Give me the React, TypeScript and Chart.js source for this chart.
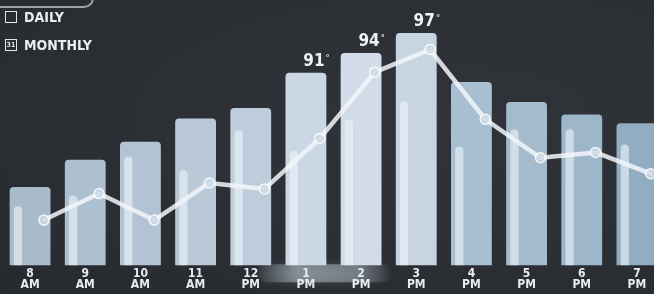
import React, { useEffect, useRef } from "react";
import { Chart, registerables } from "chart.js";

Chart.register(...registerables);

// ---- data ----
const hours = ["8", "9", "10", "11", "12", "1", "2", "3", "4", "5", "6", "7"];
const periods = ["AM", "AM", "AM", "AM", "PM", "PM", "PM", "PM", "PM", "PM", "PM", "PM"];
const temperature = [73.8, 77.9, 80.6, 84.1, 85.7, 91, 94, 97, 89.6, 86.6, 84.7, 83.4];
const innerValues = [70.9, 72.5, 78.4, 76.3, 82.4, 79.2, 84.0, 86.7, 79.9, 82.5, 82.5, 80.2];
const lineValues = [68.8, 72.8, 68.8, 74.4, 73.5, 81.1, 91.1, 94.5, 84.0, 78.2, 79.0, 75.8];
const labeledCategories = ["1 PM", "2 PM", "3 PM"];
const highlightCategories = ["1 PM", "2 PM"];
const yMin = 62;
const yMax = 101;

// ---- styles ----
const barColors = [
  "#a8bbca", "#adc0d0", "#b2c4d3", "#b9c9d8", "#becddb", "#cbd7e4",
  "#d1dce8", "#c7d4e1", "#a7bfd0", "#a3bbcc", "#9db6c9", "#91adc2",
];
const FONT = "'Liberation Sans Narrow', 'DejaVu Sans Condensed', 'Roboto', sans-serif";
const STRIP_SHIFT = -0.22;
const LINE_SHIFT = 0.25;

const catKey = (i: number) => hours[i] + " " + periods[i];

const valuePlugin = {
  id: "valueLabels",
  beforeDraw(chart: any) {
    const { ctx, chartArea } = chart;
    const xs = chart.scales.x;
    const idx = hours.map((_, i) => i).filter((i) => highlightCategories.includes(catKey(i)));
    if (!idx.length) return;
    const x0 = xs.getPixelForValue(idx[0]) - 48;
    const x1 = xs.getPixelForValue(idx[idx.length - 1]) + 30;
    const y0 = chartArea.bottom - 1;
    const h = 18;
    ctx.save();
    const g = ctx.createLinearGradient(x0, 0, x1, 0);
    g.addColorStop(0, "rgba(205,218,230,0.05)");
    g.addColorStop(0.3, "rgba(205,218,230,0.45)");
    g.addColorStop(0.75, "rgba(205,218,230,0.35)");
    g.addColorStop(1, "rgba(205,218,230,0.02)");
    ctx.fillStyle = g;
    ctx.shadowColor = "rgba(205,218,230,0.5)";
    ctx.shadowBlur = 8;
    ctx.beginPath();
    ctx.roundRect(x0, y0, x1 - x0, h, 8);
    ctx.fill();
    ctx.restore();
  },
  afterDatasetsDraw(chart: any) {
    const { ctx } = chart;
    const meta = chart.getDatasetMeta(0);
    ctx.save();
    meta.data.forEach((bar: any, i: number) => {
      if (!labeledCategories.includes(catKey(i))) return;
      const txt = String(Math.round(temperature[i]));
      ctx.font = `bold 17px ${FONT}`;
      const w = ctx.measureText(txt).width;
      const cx = bar.x + 10;
      const y = bar.y - 3;
      ctx.fillStyle = "#eef2f5";
      ctx.textBaseline = "bottom";
      ctx.textAlign = "left";
      ctx.fillText(txt, cx - w / 2 - 2, y);
      ctx.font = `bold 9px ${FONT}`;
      ctx.fillText("°", cx + w / 2 - 1, y - 7);
    });
    ctx.restore();
  },
};

export default function App() {
  const ref = useRef<HTMLCanvasElement | null>(null);

  useEffect(() => {
    if (!ref.current) return;
    const labels = hours.map((h, i) => [h, periods[i]]);
    const chart = new Chart(ref.current, {
      type: "bar",
      data: {
        labels,
        datasets: [
          {
            type: "bar",
            data: temperature,
            backgroundColor: barColors,
            borderWidth: 0,
            borderRadius: 4,
            borderSkipped: false,
            barPercentage: 0.74,
            categoryPercentage: 1,
            grouped: false,
            xAxisID: "x",
            order: 2,
          } as any,
          {
            type: "bar",
            data: innerValues.map((v, i) => ({ x: i + STRIP_SHIFT, y: v })),
            backgroundColor: "rgba(238,243,249,0.62)",
            borderRadius: { topLeft: 4, topRight: 4, bottomLeft: 0, bottomRight: 0 },
            borderSkipped: false,
            barPercentage: 0.15,
            categoryPercentage: 1,
            grouped: false,
            xAxisID: "xs",
            order: 1,
          } as any,
          {
            type: "line",
            data: lineValues.map((v, i) => ({ x: i + LINE_SHIFT, y: v })),
            xAxisID: "xl",
            borderColor: "rgba(242,246,250,0.85)",
            borderWidth: 4.5,
            borderJoinStyle: "round",
            borderCapStyle: "round",
            tension: 0,
            pointRadius: 5,
            pointBorderWidth: 1.5,
            pointBorderColor: "rgba(255,255,255,0.85)",
            pointBackgroundColor: "rgba(205,218,230,0.8)",
            order: 0,
          } as any,
        ],
      },
      options: {
        animation: false,
        responsive: false,
        layout: { padding: { left: 2, right: 0, top: 0, bottom: 0 } },
        plugins: { legend: { display: false }, tooltip: { enabled: false } },
        scales: {
          x: {
            type: "category",
            offset: true,
            grid: { display: false, drawTicks: false },
            border: { display: false },
            ticks: {
              color: "#e6ecf1",
              font: { family: FONT, size: 12, weight: "bold", lineHeight: 0.95 },
              padding: 3,
              maxRotation: 0,
              autoSkip: false,
            },
          },
          xs: {
            type: "linear",
            min: -0.5,
            max: 11.5,
            offset: false,
            display: false,
          },
          xl: {
            type: "linear",
            min: -0.5,
            max: 11.5,
            offset: false,
            display: false,
          },
          y: {
            min: yMin,
            max: yMax,
            display: false,
          },
        },
      } as any,
      plugins: [valuePlugin],
    });
    return () => chart.destroy();
  }, []);

  const text: React.CSSProperties = {
    position: "absolute",
    color: "#e9eef2",
    fontFamily: FONT,
    fontWeight: "bold",
    fontSize: 14,
    lineHeight: "14px",
    letterSpacing: 0,
  };

  return (
    <div
      style={{
        position: "fixed",
        left: 0,
        top: 0,
        width: 654,
        height: 294,
        overflow: "hidden",
        background: "radial-gradient(ellipse at 70% 40%, #30343a 0%, #2b2e33 60%, #26292d 100%)",
      }}
    >
      <canvas ref={ref} width={675} height={294} style={{ display: "block", position: "absolute", left: -4, top: 0 }} />
      <div
        style={{
          position: "absolute",
          left: -10,
          top: -22,
          width: 100,
          height: 26,
          border: "2px solid rgba(205,214,222,0.7)",
          borderRadius: 10,
        }}
      />
      <div
        style={{
          position: "absolute",
          left: 5,
          top: 11,
          width: 10,
          height: 10,
          border: "1.5px solid #dfe6ec",
        }}
      />
      <div style={{ ...text, left: 24, top: 10 }}>DAILY</div>
      <div
        style={{
          position: "absolute",
          left: 5,
          top: 39,
          width: 10,
          height: 10,
          border: "1.5px solid #dfe6ec",
          color: "#dfe6ec",
          fontFamily: FONT,
          fontWeight: "bold",
          fontSize: 7,
          lineHeight: "10px",
          textAlign: "center",
        }}
      >
        31
      </div>
      <div style={{ ...text, left: 24, top: 38 }}>MONTHLY</div>
    </div>
  );
}
